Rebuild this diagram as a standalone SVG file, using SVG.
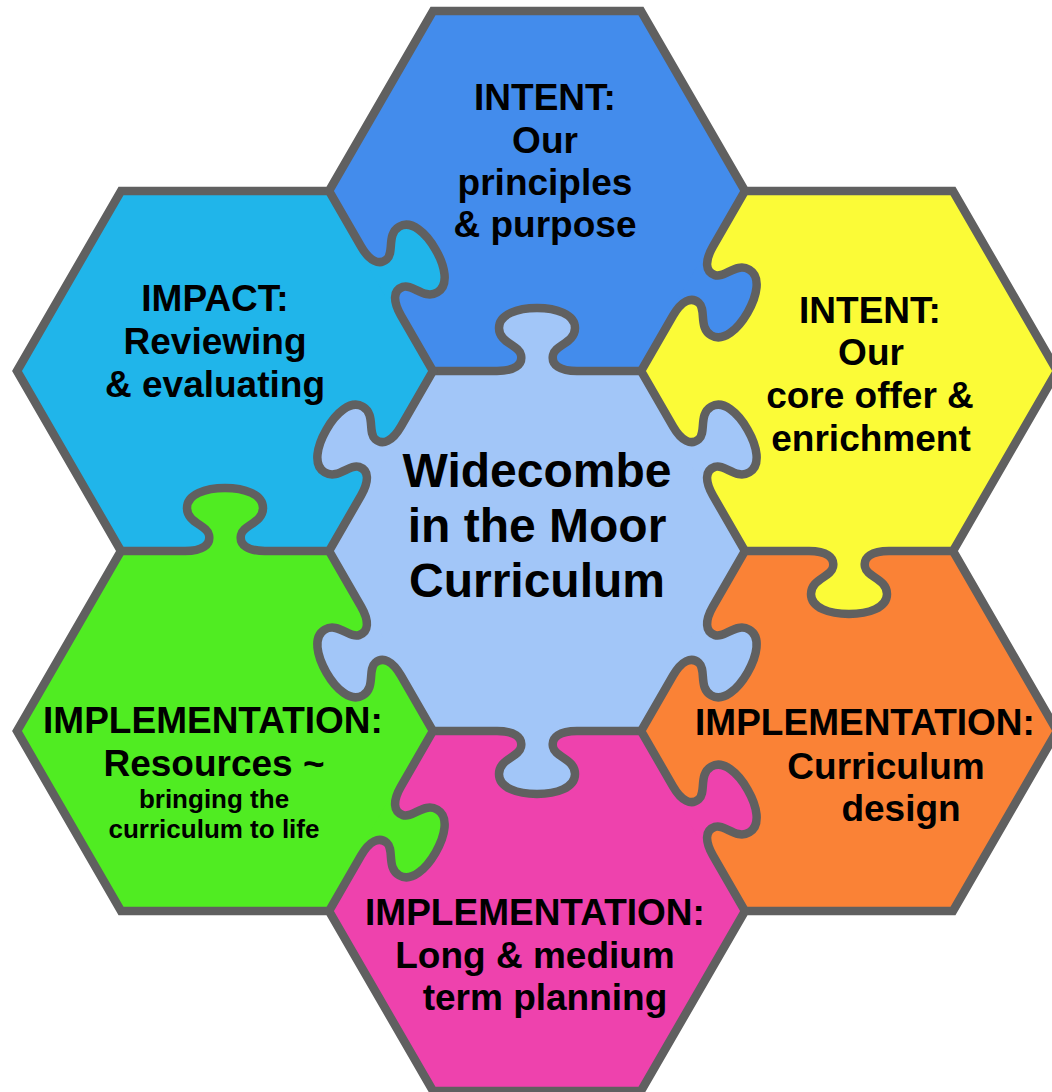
<svg xmlns="http://www.w3.org/2000/svg" xmlns:xlink="http://www.w3.org/1999/xlink" width="1052" height="1092" viewBox="0 0 1052 1092">
<style>
.t{font-family:"Liberation Sans",Arial,sans-serif;font-weight:bold;font-size:37px;fill:#000;text-anchor:middle}
.big{font-size:48px}
.sm{font-size:26px}
.ln{fill:none;stroke:#606060;stroke-width:8.5;stroke-linejoin:round;stroke-linecap:round}
.outer{fill:none;stroke:#606060;stroke-width:8.5;stroke-linejoin:miter}
</style>
<defs>
<path id="knob" d="M-40,4 L-40,0 C-23,0 -14,-6 -16,-16 C-18,-26 -38,-28 -38,-43 C-38,-57 -19,-63 0,-63 C19,-63 38,-57 38,-43 C38,-28 18,-26 16,-16 C14,-6 23,0 40,0 L40,4 Z"/>
<path id="seam" d="M-104,0 L-40,0 C-23,0 -14,-6 -16,-16 C-18,-26 -38,-28 -38,-43 C-38,-57 -19,-63 0,-63 C19,-63 38,-57 38,-43 C38,-28 18,-26 16,-16 C14,-6 23,0 40,0 L104,0"/>
</defs>
<rect width="1052" height="1092" fill="#fff"/>

<g id="orange">
<polygon points="641,731 745,551 953,551 1057,731 953,911 745,911" fill="#FA8236"/>
<text class="t" x="865" y="735">IMPLEMENTATION:</text>
<text class="t" x="886" y="779">Curriculum</text>
<text class="t" x="901" y="821">design</text>
</g>

<g id="yellow">
<polygon points="641,371 745,191 953,191 1057,371 953,551 745,551" fill="#FBFB37"/>
<use xlink:href="#knob" href="#knob" fill="#FBFB37" transform="translate(849,551) rotate(180)"/>
<text class="t" x="870" y="323">INTENT:</text>
<text class="t" x="871" y="365">Our</text>
<text class="t" x="870" y="408">core offer &amp;</text>
<text class="t" x="871" y="451">enrichment</text>
</g>

<g id="blue">
<polygon points="329,191 433,11 641,11 745,191 641,371 433,371" fill="#438CEC"/>
<use xlink:href="#knob" href="#knob" fill="#438CEC" transform="translate(693,281) rotate(120)"/>
<text class="t" x="545" y="110">INTENT:</text>
<text class="t" x="545" y="153">Our</text>
<text class="t" x="545" y="195">principles</text>
<text class="t" x="545" y="237">&amp; purpose</text>
</g>

<g id="cyan">
<polygon points="17,371 121,191 329,191 433,371 329,551 121,551" fill="#20B5EA"/>
<use xlink:href="#knob" href="#knob" fill="#20B5EA" transform="translate(381,281) rotate(60)"/>
<text class="t" x="215" y="311">IMPACT:</text>
<text class="t" x="215" y="354">Reviewing</text>
<text class="t" x="215" y="397">&amp; evaluating</text>
</g>

<g id="pink">
<polygon points="329,911 433,731 641,731 745,911 641,1091 433,1091" fill="#EE42AD"/>
<use xlink:href="#knob" href="#knob" fill="#EE42AD" transform="translate(693,821) rotate(60)"/>
<text class="t" x="535" y="925">IMPLEMENTATION:</text>
<text class="t" x="535" y="968">Long &amp; medium</text>
<text class="t" x="545" y="1010">term planning</text>
</g>

<g id="green">
<polygon points="17,731 121,551 329,551 433,731 329,911 121,911" fill="#50EC22"/>
<use xlink:href="#knob" href="#knob" fill="#50EC22" transform="translate(381,821) rotate(120)"/>
<use xlink:href="#knob" href="#knob" fill="#50EC22" transform="translate(225,551)"/>
<text class="t" x="213" y="733">IMPLEMENTATION:</text>
<text class="t" x="214" y="776">Resources ~</text>
<text class="t sm" x="214" y="808">bringing the</text>
<text class="t sm" x="214" y="838">curriculum to life</text>
</g>

<g id="centre">
<polygon points="329,551 433,371 641,371 745,551 641,731 433,731" fill="#A2C6F8"/>
<use xlink:href="#knob" href="#knob" fill="#A2C6F8" transform="translate(537,371)"/>
<use xlink:href="#knob" href="#knob" fill="#A2C6F8" transform="translate(537,731) rotate(180)"/>
<use xlink:href="#knob" href="#knob" fill="#A2C6F8" transform="translate(381,461) rotate(-60)"/>
<use xlink:href="#knob" href="#knob" fill="#A2C6F8" transform="translate(381,641) rotate(-120)"/>
<use xlink:href="#knob" href="#knob" fill="#A2C6F8" transform="translate(693,461) rotate(60)"/>
<use xlink:href="#knob" href="#knob" fill="#A2C6F8" transform="translate(693,641) rotate(120)"/>
<text class="t big" x="537" y="487">Widecombe</text>
<text class="t big" x="537" y="542">in the Moor</text>
<text class="t big" x="537" y="597">Curriculum</text>
</g>

<g id="connectors">
<path class="outer" d="M17,371 L121,191 L329,191 L433,11 L641,11 L745,191 L953,191 L1057,371 L953,551 L1057,731 L953,911 L745,911 L641,1091 L433,1091 L329,911 L121,911 L17,731 L121,551 Z"/>
<use xlink:href="#seam" href="#seam" class="ln" transform="translate(537,371)"/>
<use xlink:href="#seam" href="#seam" class="ln" transform="translate(537,731) rotate(180)"/>
<use xlink:href="#seam" href="#seam" class="ln" transform="translate(381,461) rotate(-60)"/>
<use xlink:href="#seam" href="#seam" class="ln" transform="translate(381,641) rotate(-120)"/>
<use xlink:href="#seam" href="#seam" class="ln" transform="translate(693,461) rotate(60)"/>
<use xlink:href="#seam" href="#seam" class="ln" transform="translate(693,641) rotate(120)"/>
<use xlink:href="#seam" href="#seam" class="ln" transform="translate(381,281) rotate(60)"/>
<use xlink:href="#seam" href="#seam" class="ln" transform="translate(693,281) rotate(120)"/>
<use xlink:href="#seam" href="#seam" class="ln" transform="translate(849,551) rotate(180)"/>
<use xlink:href="#seam" href="#seam" class="ln" transform="translate(693,821) rotate(60)"/>
<use xlink:href="#seam" href="#seam" class="ln" transform="translate(381,821) rotate(120)"/>
<use xlink:href="#seam" href="#seam" class="ln" transform="translate(225,551)"/>
</g>
</svg>
